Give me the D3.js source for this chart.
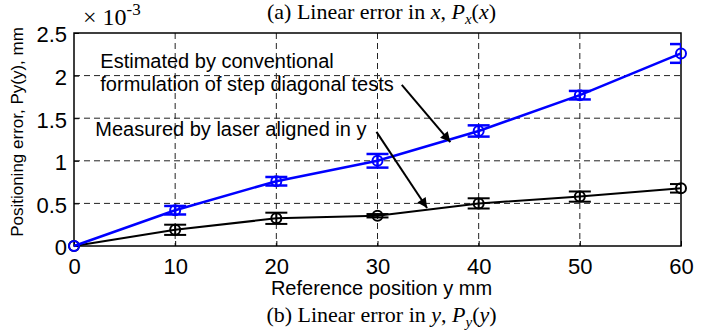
<!DOCTYPE html>
<html>
<head>
<meta charset="utf-8">
<script src="https://cdn.jsdelivr.net/npm/d3@7"></script>
<style>
  body { margin: 0; background: #fff; }
  svg { display: block; }
</style>
</head>
<body>
<svg width="712" height="332"></svg>
<script>
// reference positions (mm) and errors (x 10^-3 mm)
const positions = [0, 10, 20, 30, 40, 50, 60];
const estimated = [0, 0.42, 0.76, 1.0, 1.35, 1.77, 2.26];
const estimatedErr = [0, 0.05, 0.05, 0.08, 0.066, 0.05, 0.11];
const measured = [0, 0.19, 0.325, 0.355, 0.50, 0.58, 0.677];
const measuredErr = [0, 0.06, 0.066, 0.02, 0.06, 0.06, 0.05];
const xTicks = [0, 10, 20, 30, 40, 50, 60];
const yTicks = [0, 0.5, 1, 1.5, 2, 2.5];

var svg = d3.select("svg"),
    margin = {top: 33, right: 31, bottom: 86, left: 74},
    width = 712 - margin.left - margin.right,
    height = 332 - margin.top - margin.bottom,
    g = svg.append("g").attr("transform", "translate(" + margin.left + "," + margin.top + ")");

var sans = "'Liberation Sans', Arial, sans-serif",
    serif = "'Liberation Serif', 'Times New Roman', serif";

var x = d3.scaleLinear().domain([0, 60]).range([0, width]),
    y = d3.scaleLinear().domain([0, 2.5]).range([height, 0]);

g.append("clipPath").attr("id", "clip")
  .append("rect").attr("width", width).attr("height", height);

// dashed grid
g.selectAll(".gx").data(xTicks.slice(1, -1)).enter().append("line")
    .attr("x1", d => x(d)).attr("x2", d => x(d))
    .attr("y1", 0).attr("y2", height)
    .style("stroke", "#222").style("stroke-dasharray", "6,4");
g.selectAll(".gy").data(yTicks.slice(1, -1)).enter().append("line")
    .attr("x1", 0).attr("x2", width)
    .attr("y1", d => y(d)).attr("y2", d => y(d))
    .style("stroke", "#222").style("stroke-dasharray", "6,4");

// axes (ticks inside, like matlab)
var xAxis = g.append("g")
    .attr("transform", "translate(0," + height + ")")
    .call(d3.axisBottom(x).tickValues(xTicks).tickSizeInner(-5).tickSizeOuter(0).tickPadding(12));
var yAxis = g.append("g")
    .call(d3.axisLeft(y).tickValues(yTicks).tickFormat(d3.format("")).tickSizeInner(-5).tickSizeOuter(0).tickPadding(7));
[xAxis, yAxis].forEach(a => {
  a.select(".domain").remove();
  a.selectAll("line").style("stroke", "#000");
  a.selectAll("text").style("font", "22px " + sans).attr("fill", "#000");
});
yAxis.selectAll("text").attr("dy", "0.4em");

// box
g.append("rect").attr("width", width).attr("height", height)
    .style("fill", "none").style("stroke", "#000").style("stroke-width", 1.5);

var series = [
  {values: estimated, err: estimatedErr, color: "#0000ff", lw: 2.5},
  {values: measured, err: measuredErr, color: "#000000", lw: 2}
];

var line = d3.line()
    .x(function(d) { return x(d[0]); })
    .y(function(d) { return y(d[1]); });

// draw black first, blue on top
series.slice().reverse().forEach(function(s) {
  var pts = positions.map((p, i) => [p, s.values[i], s.err[i]]);
  var sg = g.append("g");
  sg.append("path")
      .attr("d", line(pts))
      .style("fill", "none").style("stroke", s.color).style("stroke-width", s.lw);

  var eb = sg.append("g").attr("clip-path", "url(#clip)");
  pts.filter(d => d[2] > 0).forEach(function(d) {
    var cx = x(d[0]), y0 = y(d[1] - d[2]), y1 = y(d[1] + d[2]);
    eb.append("line").attr("x1", cx).attr("x2", cx).attr("y1", y0).attr("y2", y1);
    eb.append("line").attr("x1", cx - 11).attr("x2", cx + 11).attr("y1", y0).attr("y2", y0);
    eb.append("line").attr("x1", cx - 11).attr("x2", cx + 11).attr("y1", y1).attr("y2", y1);
  });
  eb.selectAll("line").style("stroke", s.color).style("stroke-width", s.lw);

  sg.selectAll("circle").data(pts).enter().append("circle")
      .attr("cx", d => x(d[0])).attr("cy", d => y(d[1])).attr("r", 5)
      .style("fill", "none").style("stroke", s.color).style("stroke-width", 2);
});

// annotations
var defs = svg.append("defs");
defs.append("marker").attr("id", "head")
    .attr("viewBox", "0 0 10 10").attr("refX", 10).attr("refY", 5)
    .attr("markerWidth", 16).attr("markerHeight", 10).attr("markerUnits", "userSpaceOnUse")
    .attr("orient", "auto")
  .append("path").attr("d", "M0,0 L10,5 L0,10 z").attr("fill", "#000");

var notes = [
  {lines: ["Estimated by conventional", "formulation of step diagonal tests"], tx: 2.6, ty: 2.09, from: [32.4, 1.89], to: [37.2, 1.22]},
  {lines: ["Measured by laser aligned in y"], tx: 2.1, ty: 1.29, from: [29.9, 1.34], to: [34.9, 0.446]}
];
notes.forEach(function(n) {
  var t = g.append("text")
      .attr("x", x(n.tx)).attr("y", y(n.ty))
      .style("font", "20px " + sans).attr("fill", "#000");
  n.lines.forEach(function(l, i) {
    t.append("tspan").attr("x", x(n.tx)).attr("dy", i ? 23 : 0).text(l);
  });
  g.append("line")
      .attr("x1", x(n.from[0])).attr("y1", y(n.from[1]))
      .attr("x2", x(n.to[0])).attr("y2", y(n.to[1]))
      .style("stroke", "#000").style("stroke-width", 2)
      .attr("marker-end", "url(#head)");
});

// x 10^-3 exponent
var ex = svg.append("text").attr("x", 83).attr("y", 25)
    .style("font", "24px " + serif).attr("fill", "#000");
ex.append("tspan").text("\u00d7 10");
ex.append("tspan").attr("dy", -10).style("font-size", "17px").text("-3");

// titles
function caption(ypos, parts) {
  var t = svg.append("text").attr("x", margin.left + width / 2 + 4).attr("y", ypos)
      .attr("text-anchor", "middle").style("font", "22px " + serif).attr("fill", "#000");
  parts.forEach(function(p) {
    var ts = t.append("tspan").text(p.t);
    if (p.i) ts.style("font-style", "italic");
    if (p.sub) ts.attr("dy", 5).style("font-size", "15px");
    if (p.up) ts.attr("dy", -5);
  });
}
caption(19, [{t: "(a) Linear error in "}, {t: "x", i: 1}, {t: ", "}, {t: "P", i: 1}, {t: "x", i: 1, sub: 1}, {t: "(", up: 1}, {t: "x", i: 1}, {t: ")"}]);
caption(322, [{t: "(b) Linear error in "}, {t: "y", i: 1}, {t: ", "}, {t: "P", i: 1}, {t: "y", i: 1, sub: 1}, {t: "(", up: 1}, {t: "y", i: 1}, {t: ")"}]);

svg.append("text")
    .attr("x", margin.left + width / 2 + 4).attr("y", 295)
    .attr("text-anchor", "middle")
    .style("font", "20px " + sans).attr("fill", "#000")
    .text("Reference position y mm");

svg.append("text")
    .attr("transform", "translate(23,132) rotate(-90)")
    .attr("text-anchor", "middle")
    .style("font", "17px " + sans).attr("fill", "#000")
    .text("Positioning error, Py(y), mm");
</script>
</body>
</html>
